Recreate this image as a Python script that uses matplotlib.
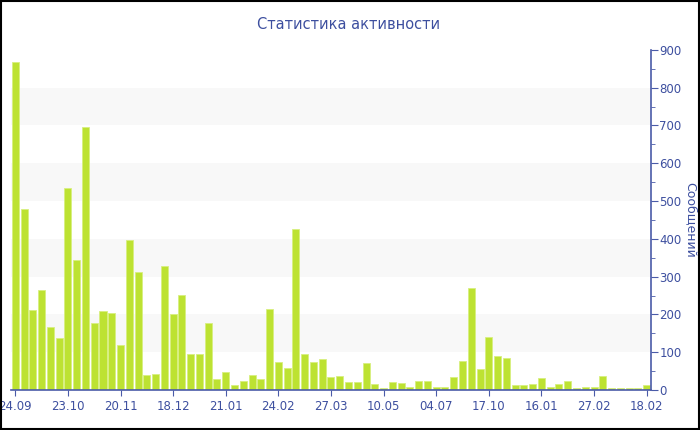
import matplotlib
matplotlib.use("Agg")
import matplotlib.pyplot as plt
from matplotlib.ticker import MultipleLocator
from matplotlib.patches import Rectangle

# Данные (сообщений за период)
values = [
    868, 480, 212, 265, 168, 137, 534, 345, 695, 177,
    210, 204, 118, 397, 312, 40, 42, 328, 201, 251,
    95, 95, 177, 30, 47, 13, 23, 40, 29, 214,
    74, 57, 427, 94, 73, 81, 34, 38, 22, 20,
    72, 15, 5, 21, 19, 8, 23, 23, 8, 7,
    34, 77, 270, 56, 141, 90, 84, 13, 13, 15,
    32, 9, 15, 23, 5, 7, 7, 36, 5, 5,
    4, 5, 12,
]
tick_labels = ["24.09", "23.10", "20.11", "18.12", "21.01", "24.02", "27.03",
               "10.05", "04.07", "17.10", "16.01", "27.02", "18.02"]
tick_step = 6

blue = "#4a5ba8"
text_blue = "#3d4f9f"

fig = plt.figure(figsize=(7, 4.3), dpi=100)
ax = fig.add_axes([0.015, 0.093, 0.915, 0.791])

# полосы фона
for lo in range(100, 900, 200):
    ax.axhspan(lo, lo + 100, color="#f8f8f8", zorder=0, lw=0)

x = list(range(len(values)))
ax.bar(x, values, width=0.8, color="#bde232", edgecolor="#d8ef80",
       linewidth=0.6, zorder=2)

ax.set_xlim(-0.55, len(values) - 0.5)
ax.set_ylim(0, 900)

ax.set_xticks(x[::tick_step])
ax.set_xticklabels(tick_labels)

ax.yaxis.tick_right()
ax.yaxis.set_label_position("right")
ax.yaxis.set_major_locator(MultipleLocator(100))
ax.yaxis.set_minor_locator(MultipleLocator(50))
ax.set_ylabel("Сообщений", rotation=270, color=text_blue, fontsize=9,
              va="center")
ax.yaxis.set_label_coords(1.061, 0.5)

for side in ["top", "left"]:
    ax.spines[side].set_visible(False)
for side in ["bottom", "right"]:
    ax.spines[side].set_color(blue)
    ax.spines[side].set_linewidth(1.2)

ax.tick_params(axis="x", colors=blue, labelcolor=text_blue, labelsize=8.5,
               length=4, direction="out", pad=3)
ax.tick_params(axis="y", which="major", colors=blue, labelcolor=text_blue,
               labelsize=8.5, length=5, pad=1)
ax.tick_params(axis="y", which="minor", colors=blue, length=3)

fig.text(0.4985, 0.942, "Статистика активности", ha="center", va="center",
         fontsize=10.5, color=text_blue)

# рамка вокруг картинки
fig.patches.append(Rectangle((0.001, 0.002), 0.997, 0.996, transform=fig.transFigure,
                             fill=False, edgecolor="black", linewidth=1.5))

fig.savefig("out.png", dpi=100)
